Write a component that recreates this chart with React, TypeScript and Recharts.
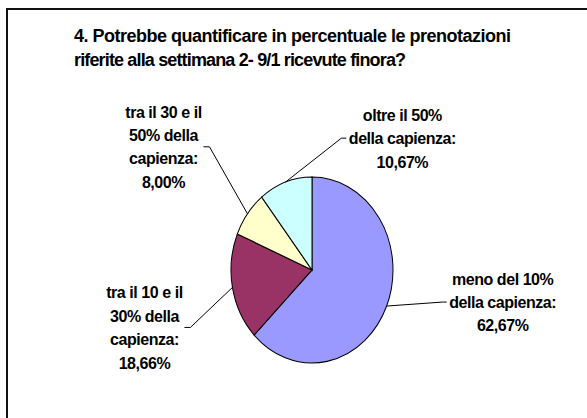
import { PieChart, Pie, Cell } from "recharts";

// categories, split into the lines the label is wrapped on
const categories = [
  ["meno del 10%", "della capienza:"],
  ["tra il 10 e il", "30% della", "capienza:"],
  ["tra il 30 e il", "50% della", "capienza:"],
  ["oltre il 50%", "della capienza:"],
];
const shares = [62.67, 18.66, 8.0, 10.67];
const colors = ["#9999FF", "#993366", "#FFFFCC", "#CCFFFF"];

// label placement (Excel style leader lines): elbow offset from the slice edge, tick, text centre offset
const labelLayout = [
  { dx: 56, dy: -4, tick: 4, tx: 60 },
  { dx: -42, dy: 40, tick: -6, tx: -46 },
  { dx: -38, dy: -67, tick: -6, tx: -46 },
  { dx: 56, dy: -44, tick: 5, tx: 61 },
];

const data = categories.map((lines, i) => ({
  name: lines.join(" "),
  lines,
  value: shares[i],
}));

const FONT = "'Liberation Sans', Arial, sans-serif";
const RX = 81;
const RY = 93;
const LINE_H = 23.4;
const RAD = Math.PI / 180;

function fmt(v: number) {
  return v.toFixed(2).replace(".", ",") + "%";
}

function renderLabel(props: any) {
  const { cx, cy, midAngle, index } = props;
  const ex = cx + RX * Math.cos(-midAngle * RAD);
  const ey = cy + RY * Math.sin(-midAngle * RAD);
  const l = labelLayout[index];
  const bx = ex + l.dx;
  const by = ey + l.dy;
  const lines = [...data[index].lines, fmt(data[index].value)];
  const top = by - ((lines.length - 1) * LINE_H) / 2;
  return (
    <g key={`lbl-${index}`}>
      <polyline
        points={`${ex},${ey} ${bx},${by} ${bx + l.tick},${by}`}
        fill="none"
        stroke="#000"
        strokeWidth={1}
      />
      {lines.map((t, k) => (
        <text
          key={k}
          x={bx + l.tx}
          y={top + k * LINE_H + 6}
          textAnchor="middle"
          fontFamily={FONT}
          fontWeight="bold"
          fontSize={16}
          letterSpacing={-0.45}
          fill="#000"
        >
          {t}
        </text>
      ))}
    </g>
  );
}

export default function App() {
  return (
    <div
      style={{
        position: "absolute",
        left: 0,
        top: 0,
        width: 587,
        height: 418,
        background: "#fff",
        overflow: "hidden",
      }}
    >
      <style>{`
        .ell-pie .recharts-sector {
          transform: scaleY(${RY / RX});
          transform-origin: 312px 270px;
        }
      `}</style>
      <div
        style={{
          position: "absolute",
          left: 6,
          top: 8,
          width: 700,
          height: 600,
          border: "2px solid #111",
          boxSizing: "border-box",
        }}
      />
      <div
        style={{
          position: "absolute",
          left: 74,
          top: 24,
          fontFamily: FONT,
          fontWeight: "bold",
          fontSize: 18,
          letterSpacing: -0.5,
          lineHeight: "24px",
          color: "#000",
          whiteSpace: "nowrap",
        }}
      >
        <div>4. Potrebbe quantificare in percentuale le prenotazioni</div>
        <div style={{ letterSpacing: -0.85 }}>riferite alla settimana 2- 9/1 ricevute finora?</div>
      </div>
      <div style={{ position: "absolute", left: 0, top: 0 }}>
        <PieChart width={587} height={418} margin={{ top: 0, right: 0, bottom: 0, left: 0 }}>
          <Pie
            className="ell-pie"
            data={data}
            dataKey="value"
            nameKey="name"
            cx={312}
            cy={270}
            outerRadius={RX}
            startAngle={90}
            endAngle={-270}
            stroke="#000"
            strokeWidth={1}
            label={renderLabel}
            labelLine={false}
            isAnimationActive={false}
          >
            {data.map((d, i) => (
              <Cell key={d.name} fill={colors[i]} />
            ))}
          </Pie>
        </PieChart>
      </div>
    </div>
  );
}
